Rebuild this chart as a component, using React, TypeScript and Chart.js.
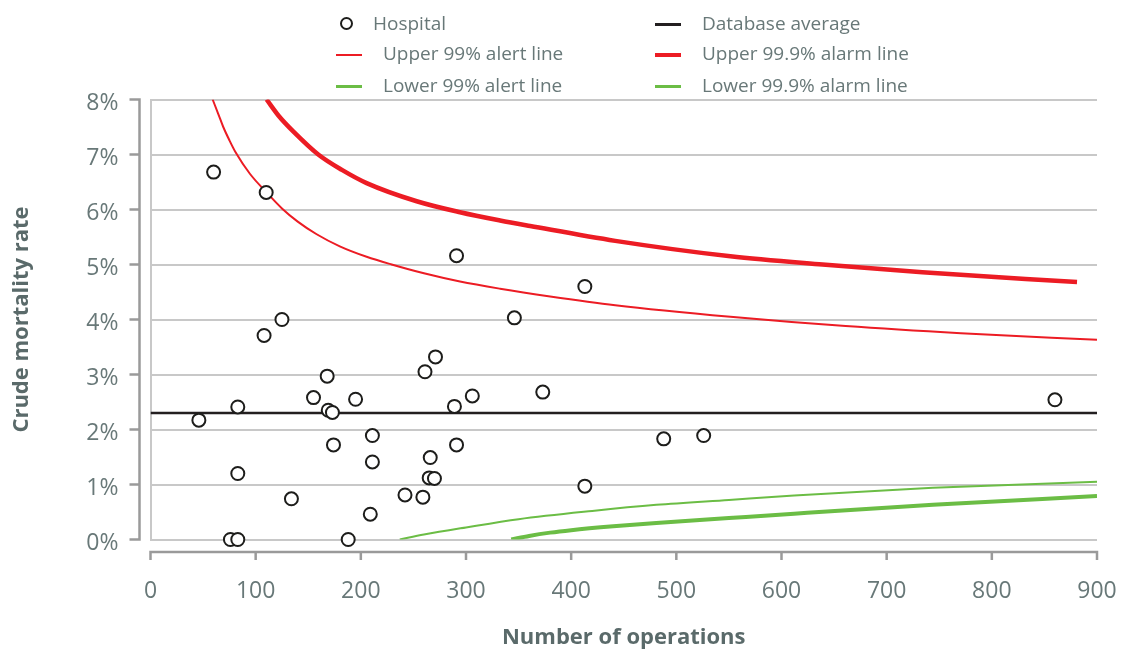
import React, { useEffect, useRef } from "react";
import { Chart, registerables } from "chart.js";

Chart.register(...registerables);

// ---- Data ----
const hospitalOperations = [
  60, 110, 125, 108, 168, 155, 83, 46, 169, 173, 195, 174, 211, 261, 271, 289,
  306, 291, 291, 413, 346, 373, 488, 526, 83, 76, 83, 134, 188, 211, 209, 242,
  259, 266, 265, 270, 413, 860,
];
const hospitalRates = [
  6.68, 6.31, 4.0, 3.71, 2.97, 2.58, 2.41, 2.17, 2.35, 2.31, 2.55, 1.72, 1.89,
  3.05, 3.32, 2.42, 2.61, 1.72, 5.16, 4.6, 4.03, 2.68, 1.83, 1.89, 1.2, 0, 0,
  0.74, 0, 1.41, 0.46, 0.81, 0.77, 1.49, 1.12, 1.11, 0.97, 2.54,
];

const averageRate = 2.3;
const averageRange = [0, 900];

const upperAlertN = [59.1, 64.4, 69.2, 75, 80.9, 94.5, 110.4, 125, 140, 158, 180, 205.5, 229.3, 260, 294.3, 332.4, 380, 441.9, 551.4, 661, 770.6, 900];
const upperAlertRate = [8, 7.74, 7.5, 7.26, 7.04, 6.65, 6.31, 6.02, 5.78, 5.55, 5.33, 5.14, 5.0, 4.84, 4.69, 4.56, 4.42, 4.26, 4.05, 3.88, 3.75, 3.63];

const upperAlarmN = [110.4, 122, 135.7, 159.5, 182, 205.5, 253.1, 294.3, 332.4, 361, 441.9, 551.4, 639, 734, 881];
const upperAlarmRate = [8, 7.7, 7.42, 7.0, 6.72, 6.48, 6.15, 5.95, 5.8, 5.7, 5.43, 5.15, 5.0, 4.86, 4.68];

const lowerAlertN = [237, 260, 300, 350, 420, 481, 550, 612, 744, 900];
const lowerAlertRate = [0, 0.09, 0.22, 0.37, 0.52, 0.63, 0.72, 0.8, 0.94, 1.05];

const lowerAlarmN = [343, 360, 380, 400, 440, 481, 550, 612, 744, 900];
const lowerAlarmRate = [0, 0.065, 0.125, 0.17, 0.24, 0.3, 0.39, 0.47, 0.63, 0.79];

const xMin = 0;
const xMax = 900;
const xStep = 100;
const yMin = 0;
const yMax = 8;
const yStep = 1;

const xTitle = "Number of operations";
const yTitle = "Crude mortality rate";

// ---- Styles ----
const RED = "#ec1c24";
const GREEN = "#6bbd45";
const BLACK = "#231f20";
const TEXT = "#687878";
const TITLE = "#5a6a6a";
const GRID = "#c8c8c8";
const AXIS = "#9a9a9a";
const FONT = "'Open Sans', 'Noto Sans', sans-serif";

const zip = (xs: number[], ys: number[]) => xs.map((x, i) => ({ x, y: ys[i] }));

const offsetAxes = {
  id: "offsetAxes",
  afterDraw(chart: any) {
    const { ctx, chartArea, scales } = chart;
    const x = scales.x;
    const y = scales.y;
    ctx.save();
    ctx.strokeStyle = AXIS;
    ctx.lineWidth = 2.5;
    ctx.lineCap = "butt";
    const ax = chartArea.left - 11;
    ctx.beginPath();
    ctx.moveTo(ax, y.getPixelForValue(yMax) - 1.25);
    ctx.lineTo(ax, y.getPixelForValue(yMin) + 1.25);
    y.ticks.forEach((t: any) => {
      const py = y.getPixelForValue(t.value);
      ctx.moveTo(ax - 10, py);
      ctx.lineTo(ax, py);
    });
    ctx.stroke();
    const ay = chartArea.bottom + 12.5;
    ctx.beginPath();
    ctx.moveTo(x.getPixelForValue(xMin) - 1.25, ay);
    ctx.lineTo(x.getPixelForValue(xMax) + 1.25, ay);
    x.ticks.forEach((t: any) => {
      const px = x.getPixelForValue(t.value);
      ctx.moveTo(px, ay);
      ctx.lineTo(px, ay + 8);
    });
    ctx.stroke();
    ctx.restore();
  },
};

type LegendItem = {
  label: string;
  kind: "circle" | "line";
  color?: string;
  thick?: number;
  markerLeft: number;
  textLeft: number;
  cy: number;
};

const legendItems: LegendItem[] = [
  { label: "Hospital", kind: "circle", markerLeft: 339.5, textLeft: 373, cy: 23.7 },
  { label: "Upper 99% alert line", kind: "line", color: RED, thick: 2.5, markerLeft: 336, textLeft: 383, cy: 54 },
  { label: "Lower 99% alert line", kind: "line", color: GREEN, thick: 2.5, markerLeft: 336, textLeft: 383, cy: 85.5 },
  { label: "Database average", kind: "line", color: BLACK, thick: 3, markerLeft: 655, textLeft: 702, cy: 23.7 },
  { label: "Upper 99.9% alarm line", kind: "line", color: RED, thick: 3.5, markerLeft: 655, textLeft: 702, cy: 54 },
  { label: "Lower 99.9% alarm line", kind: "line", color: GREEN, thick: 3.5, markerLeft: 655, textLeft: 702, cy: 85.5 },
];

export default function App() {
  const canvasRef = useRef<HTMLCanvasElement | null>(null);

  useEffect(() => {
    document.body.style.margin = "0";
    const canvas = canvasRef.current;
    if (!canvas) return;

    const chart = new Chart(canvas, {
      type: "scatter",
      data: {
        datasets: [
          {
            label: "Hospital",
            data: zip(hospitalOperations, hospitalRates),
            showLine: false,
            pointRadius: 6.5,
            pointHoverRadius: 6.5,
            pointBorderWidth: 2,
            borderColor: "#1d1d1b",
            backgroundColor: "#ffffff",
            clip: false,
          } as any,
          {
            label: "Database average",
            type: "line",
            data: averageRange.map((x) => ({ x, y: averageRate })),
            borderColor: BLACK,
            borderWidth: 2.5,
            pointRadius: 0,
          } as any,
          {
            label: "Upper 99% alert line",
            type: "line",
            data: zip(upperAlertN, upperAlertRate),
            borderColor: RED,
            borderWidth: 2,
            pointRadius: 0,
            cubicInterpolationMode: "monotone",
          } as any,
          {
            label: "Upper 99.9% alarm line",
            type: "line",
            data: zip(upperAlarmN, upperAlarmRate),
            borderColor: RED,
            borderWidth: 4.5,
            pointRadius: 0,
            cubicInterpolationMode: "monotone",
          } as any,
          {
            label: "Lower 99% alert line",
            type: "line",
            data: zip(lowerAlertN, lowerAlertRate),
            borderColor: GREEN,
            borderWidth: 2,
            pointRadius: 0,
            cubicInterpolationMode: "monotone",
          } as any,
          {
            label: "Lower 99.9% alarm line",
            type: "line",
            data: zip(lowerAlarmN, lowerAlarmRate),
            borderColor: GREEN,
            borderWidth: 4,
            pointRadius: 0,
            cubicInterpolationMode: "monotone",
          } as any,
        ],
      },
      options: {
        animation: false,
        responsive: false,
        events: [],
        layout: { padding: { top: 99.5, right: 31, left: 0, bottom: 0 } },
        plugins: {
          legend: { display: false },
          tooltip: { enabled: false },
        },
        scales: {
          x: {
            type: "linear",
            min: xMin,
            max: xMax,
            ticks: {
              stepSize: xStep,
              color: TEXT,
              font: { family: FONT, size: 23 },
              padding: 38,
              maxRotation: 0,
            },
            grid: { display: false, drawTicks: false },
            border: { display: false },
            title: {
              display: true,
              text: xTitle,
              color: TITLE,
              font: { family: FONT, size: 22, weight: "bold" },
              padding: { top: 0, bottom: 2 },
            },
            afterFit: (s: any) => {
              s.height = 113.5;
              s.paddingLeft = 0;
              s.paddingRight = 0;
            },
          },
          y: {
            type: "linear",
            min: yMin,
            max: yMax,
            ticks: {
              stepSize: yStep,
              color: TEXT,
              font: { family: FONT, size: 23 },
              padding: 32,
              labelOffset: 4,
              callback: (v: any) => `${v}%`,
            },
            grid: { color: GRID, lineWidth: 2, drawTicks: false },
            border: { display: true, color: GRID, width: 2 },
            title: {
              display: true,
              text: yTitle,
              color: TITLE,
              font: { family: FONT, size: 22, weight: "bold" },
              padding: { top: 9, bottom: 0 },
            },
            afterFit: (s: any) => {
              s.width = 150.5;
            },
          },
        },
      } as any,
      plugins: [offsetAxes],
    });

    return () => chart.destroy();
  }, []);

  return (
    <div style={{ position: "relative", width: 1128, height: 653, fontFamily: FONT, overflow: "hidden" }}>
      <canvas ref={canvasRef} width={1128} height={653} style={{ position: "absolute", left: 0, top: 0, width: 1128, height: 653 }} />
      {legendItems.map((it) => (
        <React.Fragment key={it.label}>
          {it.kind === "circle" ? (
            <div
              style={{
                position: "absolute",
                left: it.markerLeft,
                top: it.cy - 6.5,
                width: 9,
                height: 9,
                border: "2px solid #1d1d1b",
                borderRadius: "50%",
                background: "#fff",
              }}
            />
          ) : (
            <div
              style={{
                position: "absolute",
                left: it.markerLeft,
                top: it.cy - (it.thick || 2) / 2 + 1,
                width: 26,
                height: it.thick,
                background: it.color,
              }}
            />
          )}
          <div
            style={{
              position: "absolute",
              left: it.textLeft,
              top: it.cy - 10.6,
              height: 20,
              lineHeight: "20px",
              fontSize: 19,
              color: TEXT,
              whiteSpace: "nowrap",
            }}
          >
            {it.label}
          </div>
        </React.Fragment>
      ))}
    </div>
  );
}
